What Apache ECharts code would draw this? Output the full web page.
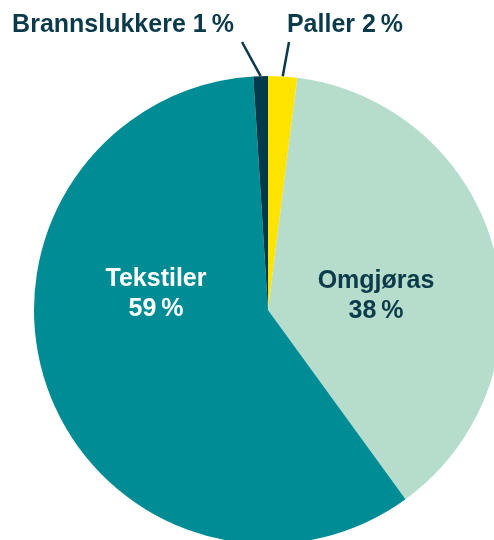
<!DOCTYPE html>
<html>
<head>
<meta charset="utf-8">
<script src="https://cdn.jsdelivr.net/npm/echarts@6/dist/echarts.min.js"></script>
<style>
  html, body { margin: 0; padding: 0; background: #fff; }
  #main { width: 494px; height: 540px; }
</style>
</head>
<body>
<div id="main"></div>
<script>
var names = ['Paller', 'Omgjøras', 'Tekstiler', 'Brannslukkere'];
var values = [2, 38, 59, 1];
var colors = ['#FFE400', '#B6DCCC', '#008C95', '#003A4B'];
var textColors = ['#0B3A4A', '#0B3A4A', '#FFFFFF', '#0B3A4A'];
var inside = [false, true, true, false];

var cx = 268, cy = 310, R = 234;
// label anchor points (text centre) and label line ends
var labelPos = [[345, 25], [376, 296], [156, 294], [123, 25]];
var lineEnd = [[289, 42], null, null, [242, 42]];

var total = values.reduce(function (a, b) { return a + b; }, 0);
function midAngle(i) {
    var s = 0;
    for (var k = 0; k < i; k++) s += values[k];
    return (s + values[i] / 2) / total * Math.PI * 2;
}

var myChart = echarts.init(document.getElementById('main'));

var data = names.map(function (n, i) {
    return {
        name: n,
        value: values[i],
        itemStyle: { color: colors[i] },
        label: {
            position: inside[i] ? 'inside' : 'outside',
            color: textColors[i],
            formatter: inside[i] ? '{b}\n{c}\u2009%' : '{b} {c}\u2009%'
        },
        labelLine: { show: !inside[i] }
    };
});

var option = {
    animation: false,
    series: [{
        type: 'pie',
        center: [cx, cy],
        radius: [0, R],
        startAngle: 90,
        clockwise: true,
        avoidLabelOverlap: false,
        itemStyle: { borderWidth: 0 },
        label: {
            show: true,
            fontFamily: 'Liberation Sans, Arial, sans-serif',
            fontWeight: 'bold',
            fontSize: 25,
            lineHeight: 30,
            align: 'center'
        },
        labelLine: {
            lineStyle: { color: '#0B3A4A', width: 2.5 }
        },
        labelLayout: function (p) {
            var i = p.dataIndex;
            var out = {
                x: labelPos[i][0],
                y: labelPos[i][1],
                align: 'center',
                verticalAlign: 'middle',
                hideOverlap: false
            };
            if (lineEnd[i]) {
                var a = midAngle(i);
                var sx = cx + R * Math.sin(a), sy = cy - R * Math.cos(a);
                var e = lineEnd[i];
                out.labelLinePoints = [[sx, sy], [(sx + e[0]) / 2, (sy + e[1]) / 2], e];
            }
            return out;
        },
        data: data
    }]
};
myChart.setOption(option);
</script>
</body>
</html>
